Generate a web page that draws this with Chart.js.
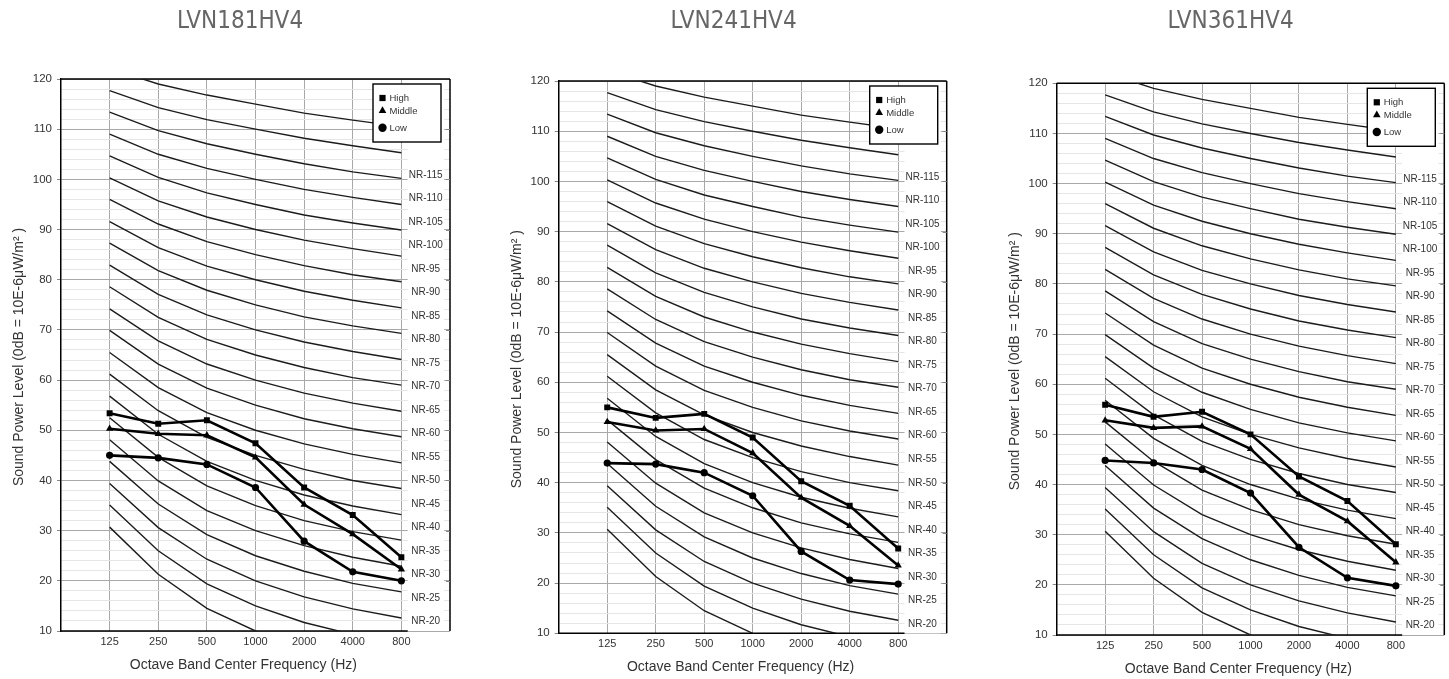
<!DOCTYPE html>
<html>
<head>
<meta charset="utf-8">
<script src="https://cdn.jsdelivr.net/npm/chart.js@4.4.1/dist/chart.umd.min.js"></script>
<style>
  html, body { margin: 0; padding: 0; background: #fff; overflow: hidden; }
  .panel { position: absolute; top: 0; height: 679px; }
</style>
</head>
<body>
<div class="panel" style="left:0px;width:480px"><canvas id="c1"></canvas></div>
<div class="panel" style="left:495px;width:470px"><canvas id="c2"></canvas></div>
<div class="panel" style="left:985px;width:464px"><canvas id="c3"></canvas></div>
<script>
const models = ['LVN181HV4', 'LVN241HV4', 'LVN361HV4']
const freqTicks = ['125', '250', '500', '1000', '2000', '4000', '800']
const seriesNames = ['High', 'Middle', 'Low']
const seriesMarks = ['rect', 'triangle', 'circle']
const xTitle = 'Octave Band Center Frequency (Hz)'
const yTitle = 'Sound Power Level (0dB = 10E-6μW/m² )'

// measured curves, dB per octave band 125..8000
const high181 = [53.4, 51.3, 52.0, 47.4, 38.6, 33.1, 24.7]
const mid181 = [50.3, 49.3, 49.0, 44.6, 35.2, 29.3, 22.3]
const low181 = [45.0, 44.5, 43.2, 38.6, 27.9, 21.8, 20.0]
const high241 = [55.0, 52.9, 53.7, 49.0, 40.3, 35.4, 26.9]
const mid241 = [52.1, 50.4, 50.7, 45.9, 37.0, 31.4, 23.5]
const low241 = [43.9, 43.7, 42.0, 37.4, 26.3, 20.6, 19.8]
const high361 = [55.9, 53.5, 54.5, 50.0, 41.6, 36.7, 28.1]
const mid361 = [52.8, 51.3, 51.6, 47.1, 38.0, 32.7, 24.5]
const low361 = [44.8, 44.3, 43.0, 38.3, 27.5, 21.4, 19.8]

// NR reference curves NR-10 .. NR-115
const nrValues = [
  [30.7, 21.3, 14.5, 10, 6.7, 4.2, 2.3],
  [35.1, 26.0, 19.4, 15, 11.7, 9.3, 7.5],
  [39.4, 30.6, 24.3, 20, 16.8, 14.4, 12.6],
  [43.8, 35.3, 29.2, 25, 21.9, 19.5, 17.8],
  [48.1, 39.9, 34.0, 30, 27.0, 24.7, 22.9],
  [52.5, 44.6, 38.9, 35, 32.0, 29.8, 28.1],
  [56.8, 49.2, 43.8, 40, 37.1, 34.9, 33.2],
  [61.2, 53.9, 48.6, 45, 42.2, 40.0, 38.4],
  [65.5, 58.5, 53.5, 50, 47.3, 45.2, 43.5],
  [69.9, 63.2, 58.4, 55, 52.3, 50.3, 48.7],
  [74.2, 67.8, 63.2, 60, 57.4, 55.4, 53.8],
  [78.6, 72.5, 68.1, 65, 62.5, 60.5, 59.0],
  [82.9, 77.1, 73.0, 70, 67.6, 65.7, 64.1],
  [87.3, 81.8, 77.9, 75, 72.6, 70.8, 69.3],
  [91.6, 86.4, 82.7, 80, 77.7, 75.9, 74.4],
  [96.0, 91.1, 87.6, 85, 82.8, 81.0, 79.6],
  [100.3, 95.7, 92.5, 90, 87.9, 86.2, 84.7],
  [104.7, 100.4, 97.3, 95, 92.9, 91.3, 89.9],
  [109.0, 105.0, 102.2, 100, 98.0, 96.4, 95.0],
  [113.4, 109.7, 107.1, 105, 103.1, 101.5, 100.2],
  [117.7, 114.3, 111.9, 110, 108.2, 106.7, 105.3],
  [122.1, 119.0, 116.8, 115, 113.2, 111.8, 110.5]
]
const nrLabels = ['NR-20', 'NR-25', 'NR-30', 'NR-35', 'NR-40', 'NR-45', 'NR-50', 'NR-55', 'NR-60', 'NR-65',
  'NR-70', 'NR-75', 'NR-80', 'NR-85', 'NR-90', 'NR-95', 'NR-100', 'NR-105', 'NR-110', 'NR-115']

const panels = [
  { id: 'c1', title: models[0], series: [high181, mid181, low181], padL: 30, yW: 31, padR: 30, top: 79, bottom: 631 },
  { id: 'c2', title: models[1], series: [high241, mid241, low241], padL: 25.3, yW: 38.4, padR: 18.3, top: 81, bottom: 633.3 },
  { id: 'c3', title: models[2], series: [high361, mid361, low361], padL: 31.7, yW: 40, padR: 4.7, top: 83.3, bottom: 635 }
]

const sans = "'Liberation Sans', Arial, sans-serif"
const narrow = "'Liberation Sans Narrow', 'DejaVu Sans Condensed', 'Liberation Sans', sans-serif"
const pad = arr => [null, ...arr, null]

const decor = {
  id: 'decor',
  beforeDatasetsDraw(chart) {
    const { ctx, chartArea: a, scales: { x, y } } = chart
    const c0 = x.getPixelForValue(7.13), c1 = x.getPixelForValue(7.88)
    ctx.save()
    // label column
    ctx.fillStyle = '#fff'
    ctx.fillRect(c0, a.top + 1, c1 - c0, a.bottom - a.top - 1)
    ctx.fillStyle = '#333'
    ctx.font = '10px ' + sans
    ctx.textAlign = 'center'
    ctx.textBaseline = 'middle'
    nrLabels.forEach((t, i) => {
      ctx.fillText(t, x.getPixelForValue(7.5), y.getPixelForValue(11.85 + i * 4.687))
    })
    // frame
    ctx.strokeStyle = '#000'
    ctx.lineWidth = 1.5
    ctx.beginPath()
    ctx.moveTo(a.left, a.top); ctx.lineTo(a.right, a.top)
    ctx.moveTo(a.right, a.top); ctx.lineTo(a.right, a.bottom)
    ctx.moveTo(a.left, a.bottom); ctx.lineTo(c0, a.bottom)
    ctx.stroke()
    ctx.strokeStyle = '#888'
    ctx.lineWidth = 1
    ctx.beginPath()
    for (let v = 20; v < 120; v += 10) {
      const py = Math.round(y.getPixelForValue(v)) + 0.5
      ctx.moveTo(a.right - 4, py); ctx.lineTo(a.right, py)
    }
    ctx.stroke()
    ctx.restore()
  },
  afterDatasetsDraw(chart) {
    const { ctx, chartArea: a } = chart
    const bx = a.right - 77, by = a.top + 5, bw = 68, bh = 58
    const rows = [14, 26.7, 43.7]
    ctx.save()
    ctx.fillStyle = '#fff'
    ctx.fillRect(bx, by, bw, bh)
    ctx.strokeStyle = '#000'
    ctx.lineWidth = 1.4
    ctx.strokeRect(bx, by, bw, bh)
    ctx.font = '9.5px ' + sans
    ctx.textBaseline = 'middle'
    ctx.textAlign = 'left'
    chart.data.datasets.filter(d => d.isSeries).forEach((d, i) => {
      const yy = by + rows[i]
      ctx.fillStyle = '#000'
      Chart.helpers.drawPoint(ctx, { pointStyle: d.pointStyle, radius: d.legendRadius, rotation: 0, borderWidth: 0 }, bx + 9.5, yy)
      ctx.fillStyle = '#333'
      ctx.fillText(d.label, bx + 16.5, yy + 0.5)
    })
    ctx.restore()
  },
  afterDraw(chart) {
    const { ctx, chartArea: a, scales: { x } } = chart
    ctx.save()
    ctx.fillStyle = '#333'
    ctx.font = '14px ' + sans
    ctx.textAlign = 'center'
    ctx.textBaseline = 'middle'
    ctx.fillText(xTitle, (a.left + x.getPixelForValue(7.5)) / 2, a.bottom + 34)
    ctx.translate(a.left - 42, (a.top + a.bottom) / 2 + 2)
    ctx.rotate(-Math.PI / 2)
    ctx.fillText(yTitle, 0, 0)
    ctx.restore()
  }
}

function makeChart(p) {
  const datasets = []
  p.series.forEach((vals, i) => {
    datasets.push({
      label: seriesNames[i],
      data: pad(vals),
      isSeries: true,
      borderColor: '#000',
      backgroundColor: '#000',
      borderWidth: 2.6,
      pointStyle: seriesMarks[i],
      pointRadius: i === 2 ? 3.6 : 4.2,
      legendRadius: i === 2 ? 4.2 : 4.4,
      pointBorderWidth: 0,
      order: 0
    })
  })
  nrValues.forEach(row => {
    datasets.push({
      label: '',
      data: pad(row),
      borderColor: '#1c1c1c',
      borderWidth: 1.4,
      pointRadius: 0,
      order: 10
    })
  })

  new Chart(document.getElementById(p.id), {
    type: 'line',
    data: { labels: pad(freqTicks).map(t => t === null ? '' : t), datasets },
    options: {
      responsive: true,
      maintainAspectRatio: false,
      animation: false,
      events: [],
      layout: { autoPadding: false, padding: { left: p.padL, right: p.padR, top: 0, bottom: 0 } },
      plugins: {
        legend: { display: false },
        tooltip: { enabled: false },
        title: {
          display: true,
          text: p.title,
          color: '#666',
          font: { family: narrow, size: 24, weight: 'normal' },
          padding: { top: 7.6, bottom: p.top - 36.4 }
        }
      },
      scales: {
        x: {
          afterFit(s) { s.height = 679 - p.bottom },
          ticks: { autoSkip: false, maxRotation: 0, color: '#333', font: { family: sans, size: 11 }, padding: 4 },
          grid: {
            drawTicks: false,
            color: c => (c.index === 0 || c.index === 8) ? 'rgba(0,0,0,0)' : '#a8a8a8',
            lineWidth: 1
          },
          border: { display: false }
        },
        y: {
          min: 10,
          max: 120,
          afterFit(s) { s.width = p.yW },
          afterBuildTicks(s) {
            const t = []
            for (let v = 10; v <= 120; v += 2) t.push({ value: v })
            s.ticks = t
          },
          ticks: {
            autoSkip: false,
            color: '#333',
            font: { family: sans, size: 11.5 },
            padding: 5,
            callback: v => v % 10 === 0 ? String(v) : ''
          },
          grid: {
            color: c => c.tick.value % 10 === 0 ? '#a8a8a8' : '#e6e6e6',
            tickColor: c => c.tick.value % 10 === 0 ? '#888' : 'rgba(0,0,0,0)',
            tickLength: 4,
            lineWidth: 1
          },
          border: { color: '#000', width: 1.5 }
        }
      }
    },
    plugins: [decor]
  })
}

panels.forEach(makeChart)
</script>
</body>
</html>
